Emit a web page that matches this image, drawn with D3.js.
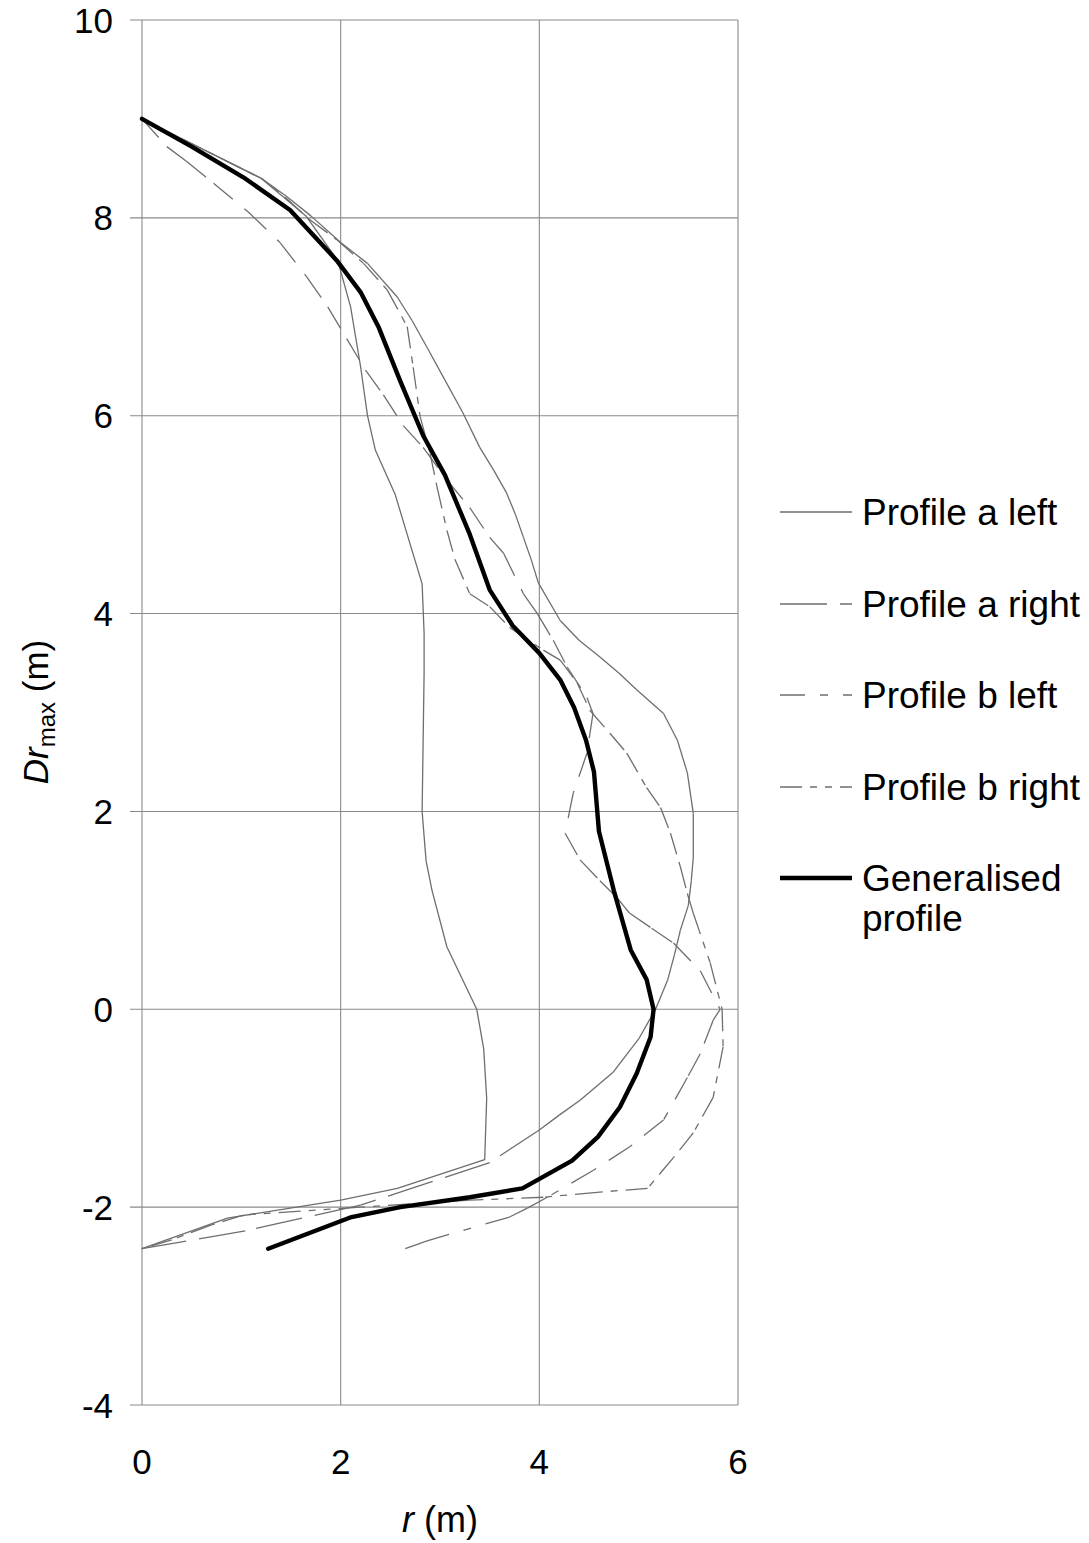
<!DOCTYPE html>
<html>
<head>
<meta charset="utf-8">
<script src="https://cdn.jsdelivr.net/npm/d3@7"></script>
<style>
  body { margin: 0; background: #fff; }
  svg { display: block; }
  text { font-family: "Liberation Sans", Arial, Helvetica, sans-serif; fill: #000; }
</style>
</head>
<body>
<svg id="chart" width="1089" height="1543"></svg>
<script>
// Axis ticks
const xTicks = [0, 2, 4, 6];
const yTicks = [-4, -2, 0, 2, 4, 6, 8, 10];

// Profiles: [r (m), Dr_max (m)]
const profileALeft = [
  [0, 9], [0.4, 8.8], [1.2, 8.4], [1.65, 8.02], [1.97, 7.57], [2.1, 7.1], [2.2, 6.5],
  [2.27, 6.0], [2.35, 5.65], [2.55, 5.2], [2.7, 4.7], [2.82, 4.3], [2.84, 3.8], [2.84, 3.4],
  [2.83, 2.7], [2.82, 2.0], [2.86, 1.5], [2.92, 1.2], [3.07, 0.63], [3.37, 0.0], [3.44, -0.4],
  [3.47, -0.9], [3.45, -1.52], [2.57, -1.81], [2.0, -1.93], [0.86, -2.11], [0, -2.42]
];
const profileARight = [
  [0, 9], [0.4, 8.8], [0.8, 8.6], [1.2, 8.4], [1.45, 8.22], [1.7, 8.02], [2.0, 7.75],
  [2.27, 7.54], [2.57, 7.2], [2.72, 6.96], [2.87, 6.69], [3.05, 6.36], [3.23, 6.03],
  [3.4, 5.68], [3.54, 5.45], [3.67, 5.22], [3.76, 5.0], [3.84, 4.77], [3.92, 4.54],
  [3.99, 4.31], [4.21, 3.93], [4.4, 3.73], [4.61, 3.56], [4.8, 3.4], [4.98, 3.23],
  [5.25, 2.99], [5.39, 2.72], [5.49, 2.39], [5.55, 1.98], [5.55, 1.54], [5.53, 1.3],
  [5.5, 1.05], [5.42, 0.8], [5.36, 0.55], [5.29, 0.29], [5.17, 0.0], [5.0, -0.3],
  [4.74, -0.64], [4.41, -0.92], [4.2, -1.07], [4.0, -1.22], [3.5, -1.55], [2.2, -1.98],
  [1.04, -2.24], [0, -2.42]
];
const profileBLeft = [
  [0, 9], [0.25, 8.72], [0.45, 8.57], [0.72, 8.35], [1.07, 8.06], [1.39, 7.75], [1.66, 7.4],
  [1.87, 7.1], [2.06, 6.78], [2.25, 6.46], [2.43, 6.21], [2.63, 5.9], [2.83, 5.68],
  [3.07, 5.35], [3.3, 5.07], [3.5, 4.77], [3.64, 4.61], [3.84, 4.2], [3.98, 4.0],
  [4.14, 3.73], [4.28, 3.46], [4.48, 3.15], [4.54, 2.99], [4.48, 2.59], [4.34, 2.18],
  [4.26, 1.78], [4.41, 1.51], [4.61, 1.3], [4.78, 1.13], [4.91, 0.97], [5.13, 0.82],
  [5.35, 0.67], [5.62, 0.39], [5.82, 0.0], [5.75, -0.11], [5.62, -0.45], [5.49, -0.69],
  [5.25, -1.12], [4.91, -1.39], [4.54, -1.63], [4.08, -1.9], [3.88, -2.01], [3.7, -2.1],
  [2.87, -2.34], [2.65, -2.42]
];
const profileBRight = [
  [0, 9], [0.4, 8.8], [0.8, 8.6], [1.2, 8.4], [1.45, 8.2], [1.69, 7.98], [1.96, 7.78],
  [2.23, 7.54], [2.47, 7.27], [2.67, 6.9], [2.73, 6.49], [2.8, 5.99], [2.9, 5.62],
  [2.97, 5.28], [3.07, 4.84], [3.15, 4.55], [3.3, 4.2], [3.5, 4.07], [3.7, 3.86],
  [4.04, 3.63], [4.21, 3.53], [4.38, 3.3], [4.51, 3.02], [4.71, 2.79], [4.88, 2.59],
  [5.08, 2.24], [5.22, 2.04], [5.32, 1.78], [5.42, 1.44], [5.49, 1.17], [5.55, 0.97],
  [5.72, 0.47], [5.84, 0.0], [5.85, -0.38], [5.75, -0.89], [5.55, -1.25], [5.35, -1.5],
  [5.09, -1.81], [4.58, -1.85], [4.04, -1.9], [3.3, -1.93], [2.2, -2.0], [1.02, -2.08],
  [0.7, -2.18], [0.3, -2.33], [0, -2.42]
];
const generalised = [
  [0, 9], [0.5, 8.72], [1.02, 8.41], [1.49, 8.08], [1.96, 7.57], [2.2, 7.25], [2.38, 6.9],
  [2.6, 6.35], [2.83, 5.8], [3.05, 5.4], [3.3, 4.8], [3.5, 4.24], [3.73, 3.88], [4.0, 3.6],
  [4.21, 3.33], [4.35, 3.05], [4.47, 2.72], [4.55, 2.4], [4.6, 1.8], [4.75, 1.2],
  [4.92, 0.6], [5.08, 0.3], [5.15, 0.0], [5.12, -0.28], [4.98, -0.65], [4.81, -0.99],
  [4.59, -1.29], [4.33, -1.53], [3.83, -1.81], [3.3, -1.9], [2.6, -2.0], [2.11, -2.1],
  [1.27, -2.42]
];

const series = [
  { name: "Profile a left",  data: profileALeft,  dash: null,                 width: 1.3, color: "#6e6e6e" },
  { name: "Profile a right", data: profileARight, dash: "47,13",              width: 1.3, color: "#6e6e6e" },
  { name: "Profile b left",  data: profileBLeft,  dash: "25,15,8,15",         width: 1.3, color: "#6e6e6e" },
  { name: "Profile b right", data: profileBRight, dash: "22,8,7,8,7,8",       width: 1.3, color: "#6e6e6e" },
  { name: "Generalised profile", data: generalised, dash: null,               width: 4.4, color: "#000" }
];

const svg = d3.select("#chart");
const x = d3.scaleLinear().domain([0, 6]).range([142, 738]);
const y = d3.scaleLinear().domain([-4, 10]).range([1405, 20]);

// Grid and left tick marks
const grid = svg.append("g").attr("stroke", "#8a8a8a").attr("stroke-width", 1.1);
grid.selectAll("line.h").data(yTicks).join("line")
  .attr("x1", x(0) - 12).attr("x2", x(6))
  .attr("y1", d => y(d)).attr("y2", d => y(d));
grid.selectAll("line.v").data(xTicks).join("line")
  .attr("x1", d => x(d)).attr("x2", d => x(d))
  .attr("y1", y(10)).attr("y2", y(-4));

// Tick labels
svg.append("g").selectAll("text").data(yTicks).join("text")
  .attr("x", 113).attr("y", d => y(d)).attr("dy", "0.36em")
  .attr("text-anchor", "end").attr("font-size", 35)
  .text(d => d);
svg.append("g").selectAll("text").data(xTicks).join("text")
  .attr("x", d => x(d)).attr("y", 1474)
  .attr("text-anchor", "middle").attr("font-size", 35)
  .text(d => d);

// Axis titles
const xt = svg.append("text").attr("x", 440).attr("y", 1532)
  .attr("text-anchor", "middle").attr("font-size", 36);
xt.append("tspan").attr("font-style", "italic").text("r");
xt.append("tspan").text(" (m)");

const yt = svg.append("text")
  .attr("transform", "translate(48,712) rotate(-90)")
  .attr("text-anchor", "middle").attr("font-size", 35);
yt.append("tspan").attr("font-style", "italic").text("Dr");
yt.append("tspan").attr("font-size", 24).attr("dy", 7).text("max");
yt.append("tspan").attr("dy", -7).text(" (m)");

// Profile lines: the dash pattern restarts at every data point, so each
// segment between consecutive points is stroked on its own.
const line = d3.line().x(d => x(d[0])).y(d => y(d[1]));
const lines = svg.append("g");
series.forEach(s => {
  if (s.dash) {
    lines.append("g").selectAll("path").data(d3.pairs(s.data)).join("path")
      .attr("d", d => line(d))
      .attr("fill", "none")
      .attr("stroke", s.color)
      .attr("stroke-width", s.width)
      .attr("stroke-dasharray", s.dash);
  } else {
    lines.append("path")
      .attr("d", line(s.data))
      .attr("fill", "none")
      .attr("stroke", s.color)
      .attr("stroke-width", s.width)
      .attr("stroke-linejoin", "round")
      .attr("stroke-linecap", "round");
  }
});

// Legend
const legendY = [512, 604, 695, 787, 878];
const lg = svg.append("g");
series.forEach((s, i) => {
  const yy = legendY[i];
  lg.append("line")
    .attr("x1", 780).attr("x2", 852).attr("y1", yy).attr("y2", yy)
    .attr("stroke", s.color).attr("stroke-width", s.width)
    .attr("stroke-dasharray", s.dash);
  const words = s.name === "Generalised profile" ? ["Generalised", "profile"] : [s.name];
  words.forEach((w, j) => {
    lg.append("text").attr("x", 862).attr("y", yy + j * 40).attr("dy", "0.36em")
      .attr("font-size", 37).text(w);
  });
});
</script>
</body>
</html>
